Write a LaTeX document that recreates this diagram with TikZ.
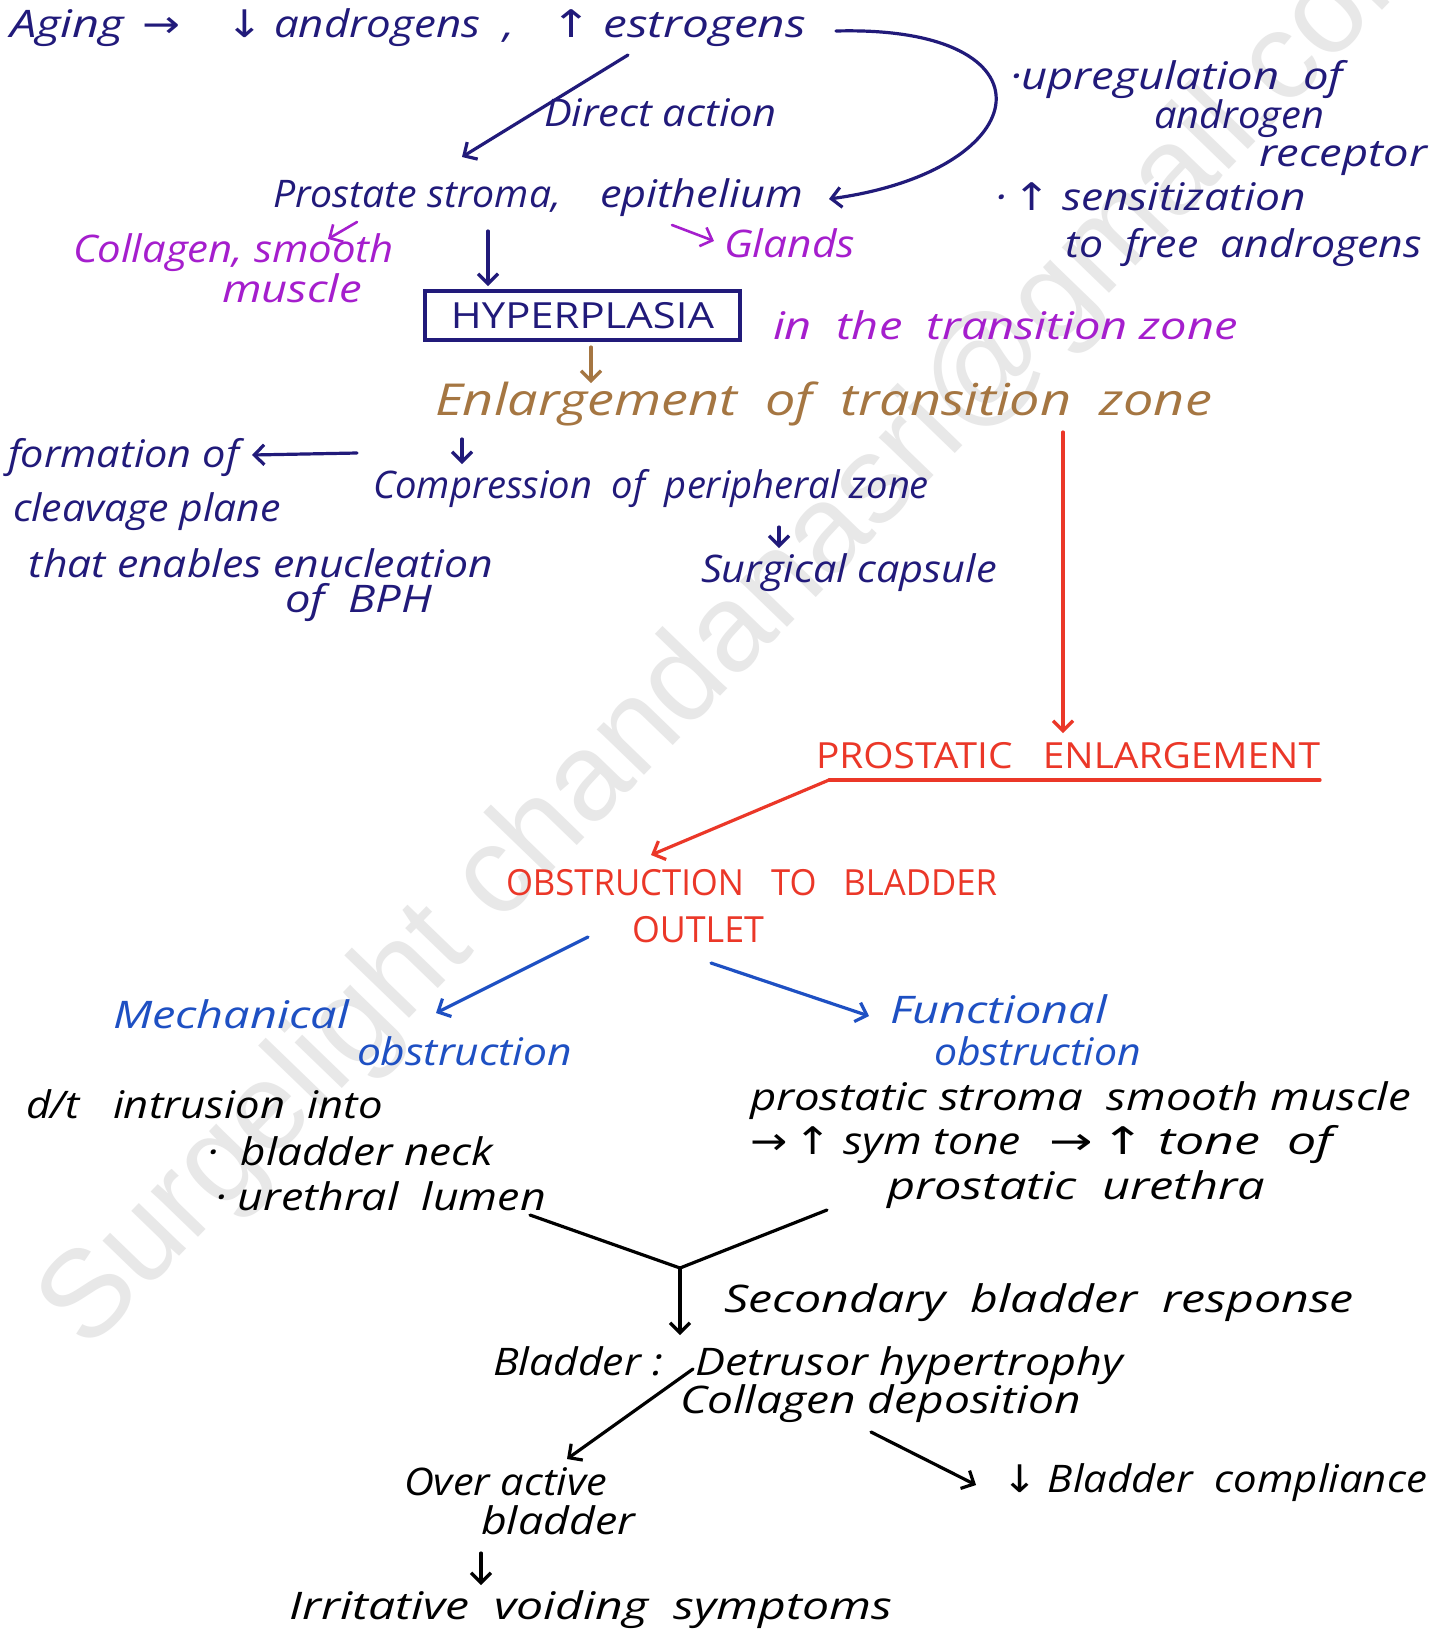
\documentclass[tikz,border=0pt]{standalone}
\usepackage{fontspec}
\usepackage{graphicx}
\setmainfont{Open Sans}
\newfontfamily\arrowfont{DejaVu Sans}
\newfontfamily\wmfont{Liberation Sans}
\usetikzlibrary{arrows.meta}

% one unit = one pixel of the sheet
\newlength\upx \setlength\upx{0.5pt}
% stretch a handwritten line to a given width, keeping its height
\newcommand\hw[2]{\resizebox{#1\upx}{\height}{#2}}
\newcommand\upar{{\arrowfont ↑}}
\newcommand\dnar{{\arrowfont ↓}}
\newcommand\rtar{{\arrowfont →}}

\definecolor{inkNavy}{RGB}{33,26,122}
\definecolor{inkPurple}{RGB}{165,30,205}
\definecolor{inkBrown}{RGB}{165,118,66}
\definecolor{inkRed}{RGB}{235,55,40}
\definecolor{inkBlue}{RGB}{30,80,195}
\definecolor{inkWater}{RGB}{232,232,232}

\tikzset{
  t/.style={anchor=base west, inner sep=0pt, outer sep=0pt,
            font=\fontsize{19}{23}\selectfont\itshape},
  capt/.style={anchor=base west, inner sep=0pt, outer sep=0pt,
            font=\fontsize{18}{22}\selectfont\upshape},
  big/.style={anchor=base west, inner sep=0pt, outer sep=0pt,
            font=\fontsize{22}{26}\selectfont\itshape},
  pen/.style={line width=1.6pt, line cap=round, line join=round},
  arr/.style={pen, -{Straight Barb[length=5pt,width=10pt]}},
}

\begin{document}
\begin{tikzpicture}[x=0.5pt, y=-0.5pt]
\useasboundingbox (0,0) rectangle (1445,1646);
\fill[white] (0,0) rectangle (1445,1646);

% watermark
\begin{scope}
  \clip (0,0) rectangle (1445,1646);
  \node[text=inkWater, rotate=46, inner sep=0pt] (wmk) at (745,625)
    {\resizebox{1960\upx}{!}{\wmfont Surgelight chandanasri@gmail.com}};
\end{scope}

% ---------- hormones ----------
\begin{scope}[every node/.append style={text=inkNavy}]
\node[t] (aging) at (10,37) {\hw{114}{Aging}};
\node[t] (ar1) at (142,37) {\hw{38}{\rtar}};
\node[t] (andr) at (226,37) {\hw{288}{\dnar\ androgens\ \ ,}};
\node[t] (estr) at (551,37) {\hw{255}{\upar\ estrogens}};
\node[t] (dact) at (544,126) {\hw{233}{Direct action}};
\node[t] (stroma) at (273,207) {\hw{288}{Prostate stroma,}};
\node[t] (epi) at (600,207) {\hw{203}{epithelium}};
\node[t] (upa) at (1010,89) {\hw{333}{·upregulation\ \ of}};
\node[t] (upb) at (1154,128) {\hw{170}{androgen}};
\node[t] (upc) at (1259,166) {\hw{168}{receptor}};
\node[t] (sea) at (995,210) {\hw{311}{·\,\upar\ sensitization}};
\node[t] (seb) at (1065,257) {\hw{357}{to\ \ free\ \ androgens}};
\end{scope}

% ---------- tissue ----------
\begin{scope}[every node/.append style={text=inkPurple}]
\node[t] (coll) at (73,262) {\hw{321}{Collagen, smooth}};
\node[t] (musc) at (222,302) {\hw{140}{muscle}};
\node[t] (glands) at (724,257) {\hw{131}{Glands}};
\node[t] (tz) at (773,339) {\hw{465}{in\ \ the\ \ transition zone}};
\end{scope}

\node[draw=inkNavy, line width=1.6pt, inner sep=0pt, minimum width=157.5pt,
      minimum height=24.5pt, text=inkNavy, font=\fontsize{18}{22}\selectfont]
      (hyp) at (582.5,315.5) {\hw{263}{HYPERPLASIA}};

\node[big, text=inkBrown] (enl) at (435,415)
  {\hw{777}{Enlargement\ \ of\ \ transition\ \ zone}};

\begin{scope}[every node/.append style={text=inkNavy}]
\node[t] (comp) at (373,498) {\hw{556}{Compression\ \ of\ \ peripheral zone}};
\node[t] (fa) at (8,467) {\hw{231}{formation of}};
\node[t] (fb) at (13,521) {\hw{268}{cleavage plane}};
\node[t] (fc) at (29,577) {\hw{464}{that enables enucleation}};
\node[t] (fd) at (285,612) {\hw{147}{of\ \ BPH}};
\node[t] (capsule) at (701,582) {\hw{296}{Surgical capsule}};
\end{scope}

% ---------- obstruction ----------
\begin{scope}[every node/.append style={text=inkRed}]
\node[capt] (pe) at (816,768) {\hw{504}{PROSTATIC\ \ \ ENLARGEMENT}};
\node[capt] (oba) at (506,895) {\hw{491}{OBSTRUCTION\ \ \ TO\ \ \ BLADDER}};
\node[capt] (obb) at (632,942) {\hw{132}{OUTLET}};
\end{scope}

\begin{scope}[every node/.append style={text=inkBlue}]
\node[t] (mea) at (113,1028) {\hw{236}{Mechanical}};
\node[t] (meb) at (357,1065) {\hw{215}{obstruction}};
\node[t] (fua) at (890,1023) {\hw{217}{Functional}};
\node[t] (fub) at (934,1065) {\hw{207}{obstruction}};
\end{scope}

\node[t] (dt) at (26,1118) {\hw{54}{d/t}};
\node[t] (intr) at (113,1118) {\hw{270}{intrusion\ \ into}};
\node[t] (neck) at (207,1165) {\hw{286}{·\ \ bladder neck}};
\node[t] (lumen) at (215,1210) {\hw{331}{·\ urethral\ \ lumen}};
\node[t] (psm) at (750,1110) {\hw{661}{prostatic stroma\ \ smooth muscle}};
\node[t] (sym) at (750,1154) {\hw{271}{\rtar\,\upar\ sym tone}};
\node[t] (tone) at (1049,1154) {\hw{284}{\rtar\,\upar\ tone\ \ of}};
\node[t] (pu) at (887,1199) {\hw{378}{prostatic\ \ urethra}};

% ---------- bladder ----------
\node[t] (sec) at (724,1312) {\hw{630}{Secondary\ \ bladder\ \ response}};
\node[t] (bl) at (493,1375) {\hw{170}{Bladder :}};
\node[t] (det) at (695,1375) {\hw{428}{Detrusor hypertrophy}};
\node[t] (cold) at (680,1413) {\hw{401}{Collagen deposition}};
\node[t] (compl) at (1002,1492) {\hw{425}{\dnar\ Bladder\ \ compliance}};
\node[t] (oaa) at (404,1495) {\hw{203}{Over active}};
\node[t] (oab) at (481,1534) {\hw{154}{bladder}};
\node[t] (irr) at (289,1619) {\hw{603}{Irritative\ \ voiding\ \ symptoms}};

% ---------- connector ends ----------
\coordinate (cuA) at (836,31);   \coordinate (cuB) at (829,199);
\coordinate (daA) at (628,55);   \coordinate (daB) at (462,157);
\coordinate (shA) at (488,231);  \coordinate (shB) at (488,286);
\coordinate (smA) at (357,222);  \coordinate (smB) at (328,239);
\coordinate (glA) at (672,225);  \coordinate (glB) at (714,241);
\coordinate (heA) at (591,347);  \coordinate (heB) at (591,383);
\coordinate (ecA) at (462,439);  \coordinate (ecB) at (462,464);
\coordinate (cfA) at (357,453);  \coordinate (cfB) at (252,455);
\coordinate (ccA) at (779,527);  \coordinate (ccB) at (779,548);
\coordinate (epA) at (1063,432); \coordinate (epB) at (1063,733);
\coordinate (ulA) at (829,780);  \coordinate (ulB) at (1320,780);
\coordinate (poB) at (651,855);
\coordinate (omA) at (588,937);  \coordinate (omB) at (436,1013);
\coordinate (ofA) at (711,963);  \coordinate (ofB) at (869,1016);
\coordinate (jL) at (530,1215);  \coordinate (jR) at (827,1210);
\coordinate (jM) at (680,1268);  \coordinate (jB) at (680,1335);
\coordinate (boA) at (693,1369); \coordinate (boB) at (567,1459);
\coordinate (bcA) at (871,1432); \coordinate (bcB) at (976,1485);
\coordinate (oiA) at (481,1553); \coordinate (oiB) at (481,1585);

% ---------- connectors ----------
\begin{scope}[draw=inkNavy]
\draw[arr] (cuA) .. controls (1060,25) and (1040,170) .. (cuB);
\draw[arr] (daA) -- (daB);
\draw[arr] (shA) -- (shB);
\draw[arr] (ecA) -- (ecB);
\draw[arr] (cfA) -- (cfB);
\draw[arr] (ccA) -- (ccB);
\end{scope}
\draw[arr, draw=inkPurple, line width=1.3pt] (smA) -- (smB);
\draw[arr, draw=inkPurple, line width=1.3pt] (glA) -- (glB);
\draw[arr, draw=inkBrown] (heA) -- (heB);
\draw[arr, draw=inkRed] (epA) -- (epB);
\draw[pen, draw=inkRed] (ulB) -- (ulA);
\draw[arr, draw=inkRed] (ulA) -- (poB);
\draw[arr, draw=inkBlue] (omA) -- (omB);
\draw[arr, draw=inkBlue] (ofA) -- (ofB);
\draw[pen] (jL) -- (jM) -- (jR);
\draw[arr] (jM) -- (jB);
\draw[arr] (boA) -- (boB);
\draw[arr] (bcA) -- (bcB);
\draw[arr] (oiA) -- (oiB);
\end{tikzpicture}
\end{document}
